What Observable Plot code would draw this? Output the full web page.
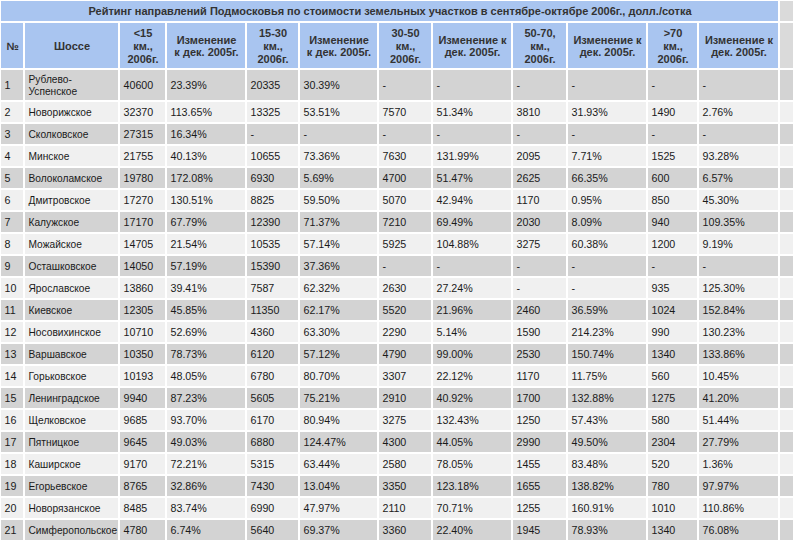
<!DOCTYPE html>
<html><head><meta charset="utf-8">
<script src="https://cdn.jsdelivr.net/npm/d3@7"></script>
<script src="https://cdn.jsdelivr.net/npm/@observablehq/plot@0.6"></script>
<style>body{margin:0;background:#fff}#chart svg{display:block}</style>
</head><body><div id="chart"></div>
<script>
// ---------- data ----------
const title = "Рейтинг направлений Подмосковья по стоимости земельных участков в сентябре-октябре 2006г., долл./сотка";
const headers = ["№","Шоссе","<15\nкм.,\n2006г.","Изменение\nк дек. 2005г.","15-30\nкм.,\n2006г.","Изменение\nк дек. 2005г.","30-50\nкм.,\n2006г.","Изменение к\nдек. 2005г.","50-70,\nкм.,\n2006г.","Изменение к\nдек. 2005г.",">70\nкм.,\n2006г.","Изменение к\nдек. 2005г."];
const ranks = [1,2,3,4,5,6,7,8,9,10,11,12,13,14,15,16,17,18,19,20,21];
const highways = ["Рублево-\nУспенское","Новорижское","Сколковское","Минское","Волоколамское","Дмитровское","Калужское","Можайское","Осташковское","Ярославское","Киевское","Носовихинское","Варшавское","Горьковское","Ленинградское","Щелковское","Пятницкое","Каширское","Егорьевское","Новорязанское","Симферопольское"];
const priceLt15 = [40600,32370,27315,21755,19780,17270,17170,14705,14050,13860,12305,10710,10350,10193,9940,9685,9645,9170,8765,8485,4780];
const changeLt15 = [23.39,113.65,16.34,40.13,172.08,130.51,67.79,21.54,57.19,39.41,45.85,52.69,78.73,48.05,87.23,93.70,49.03,72.21,32.86,83.74,6.74];
const price15to30 = [20335,13325,null,10655,6930,8825,12390,10535,15390,7587,11350,4360,6120,6780,5605,6170,6880,5315,7430,6990,5640];
const change15to30 = [30.39,53.51,null,73.36,5.69,59.50,71.37,57.14,37.36,62.32,62.17,63.30,57.12,80.70,75.21,80.94,124.47,63.44,13.04,47.97,69.37];
const price30to50 = [null,7570,null,7630,4700,5070,7210,5925,null,2630,5520,2290,4790,3307,2910,3275,4300,2580,3350,2110,3360];
const change30to50 = [null,51.34,null,131.99,51.47,42.94,69.49,104.88,null,27.24,21.96,5.14,99.00,22.12,40.92,132.43,44.05,78.05,123.18,70.71,22.40];
const price50to70 = [null,3810,null,2095,2625,1170,2030,3275,null,null,2460,1590,2530,1170,1700,1250,2990,1455,1655,1255,1945];
const change50to70 = [null,31.93,null,7.71,66.35,0.95,8.09,60.38,null,null,36.59,214.23,150.74,11.75,132.88,57.43,49.50,83.48,138.82,160.91,78.93];
const priceGt70 = [null,1490,null,1525,600,850,940,1200,null,935,1024,990,1340,560,1275,580,2304,520,780,1010,1340];
const changeGt70 = [null,2.76,null,93.28,6.57,45.30,109.35,9.19,null,125.30,152.84,130.23,133.86,10.45,41.20,51.44,27.79,1.36,97.97,110.86,76.08];

// ---------- layout ----------
const colWidths = [24,95,47,80,53,79,54,80,55,80,51,81,15];
const titleH = 22, headerH = 47, firstRowH = 32, rowH = 22;
const blue = "#a9c5f0", darkRow = "#d3d3d3", lightRow = "#f0f0f0", stripGray = "#dadada";

const colStart = [0];
colWidths.forEach(w => colStart.push(colStart[colStart.length - 1] + w));
const totalW = colStart[colStart.length - 1];
const nCols = headers.length;
const rowTop = [titleH + headerH];
ranks.forEach((_, i) => rowTop.push(rowTop[i] + (i === 0 ? firstRowH : rowH)));
const totalH = rowTop[rowTop.length - 1] + 1;

const fmtNum = v => v == null ? "-" : String(v);
const fmtPct = v => v == null ? "-" : v.toFixed(2) + "%";
const columns = [
  i => String(ranks[i]), i => highways[i],
  i => fmtNum(priceLt15[i]), i => fmtPct(changeLt15[i]),
  i => fmtNum(price15to30[i]), i => fmtPct(change15to30[i]),
  i => fmtNum(price30to50[i]), i => fmtPct(change30to50[i]),
  i => fmtNum(price50to70[i]), i => fmtPct(change50to70[i]),
  i => fmtNum(priceGt70[i]), i => fmtPct(changeGt70[i])
];

const cells = [];
cells.push({x1: 0, x2: colStart[nCols], y1: 0, y2: titleH, fill: blue});
cells.push({x1: colStart[nCols], x2: totalW, y1: 0, y2: titleH, fill: stripGray});
headers.forEach((h, c) => cells.push({x1: colStart[c], x2: colStart[c+1], y1: titleH, y2: titleH + headerH, fill: blue}));
cells.push({x1: colStart[nCols], x2: totalW, y1: titleH, y2: titleH + headerH, fill: stripGray});
const bodyText = [], nameText = [];
ranks.forEach((r, i) => {
  const fill = i % 2 === 0 ? darkRow : lightRow;
  for (let c = 0; c <= nCols; c++) {
    cells.push({x1: colStart[c], x2: colStart[c+1], y1: rowTop[i], y2: rowTop[i+1], fill});
    if (c < nCols) (c === 1 ? nameText : bodyText).push({x: colStart[c] + 4, y: (rowTop[i] + rowTop[i+1]) / 2, text: columns[c](i)});
  }
});
const headText = headers.map((h, c) => ({x: (colStart[c] + colStart[c+1]) / 2, y: titleH + headerH / 2, text: h}));
const titleText = [{x: colStart[nCols] / 2, y: titleH / 2, text: title}];

const font = "Liberation Sans, Arial, Helvetica, sans-serif";
const chart = Plot.plot({
  width: 794, height: 542, margin: 0,
  x: {type: "linear", domain: [0, totalW], range: [0, 794], axis: null},
  y: {type: "linear", domain: [0, totalH], range: [0, 542], axis: null},
  color: {type: "identity"},
  style: {background: "#fff"},
  marks: [
    Plot.rect(cells, {x1: "x1", x2: "x2", y1: "y1", y2: "y2", fill: "fill", inset: 1}),
    Plot.text(titleText, {x: "x", y: "y", text: "text", fontFamily: font, fontSize: 11, fontWeight: "bold", fill: "#333", textAnchor: "middle"}),
    Plot.text(headText, {x: "x", y: "y", text: "text", fontFamily: font, fontSize: 11, fontWeight: "bold", fill: "#333", textAnchor: "middle", lineAnchor: "middle", lineHeight: 1.15}),
    Plot.text(bodyText, {x: "x", y: "y", text: "text", fontFamily: font, fontSize: 10.7, fill: "#1a1a1a", textAnchor: "start", lineAnchor: "middle"}),
    Plot.text(nameText, {x: "x", y: "y", text: "text", fontFamily: font, fontSize: 10.2, fill: "#1a1a1a", textAnchor: "start", lineAnchor: "middle", lineHeight: 1.12})
  ]
});
document.getElementById("chart").appendChild(chart);
</script>
</body></html>
